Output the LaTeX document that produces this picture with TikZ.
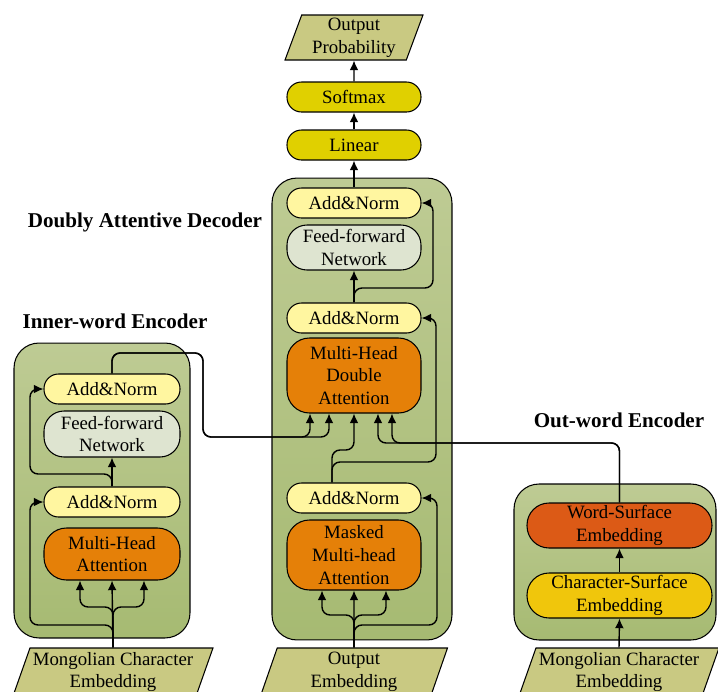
\documentclass[tikz,border=0pt]{standalone}
\usepackage{fontspec}
\setmainfont{Liberation Serif}
\usetikzlibrary{shapes.geometric,arrows.meta}
\definecolor{panelTop}{RGB}{190,203,148}
\definecolor{panelBot}{RGB}{166,186,114}
\definecolor{embFill}{RGB}{201,201,130}
\definecolor{normFill}{RGB}{255,246,160}
\definecolor{ffnFill}{RGB}{222,228,208}
\definecolor{attFill}{RGB}{229,128,8}
\definecolor{outFill}{RGB}{224,208,0}
\definecolor{wordFill}{RGB}{220,90,22}
\definecolor{charFill}{RGB}{240,198,12}

\begin{document}
\begin{tikzpicture}[x=0.02cm,y=-0.02cm,
    >={Latex[length=5.5pt,width=5pt]},
    txt/.style={font=\fontsize{10.7}{13}\selectfont},
    box/.style={draw,semithick,txt,align=center,inner sep=0pt,minimum width=2.68cm},
    norm/.style={box,fill=normFill,minimum height=0.6cm,rounded corners=0.29cm},
    ffn/.style={box,fill=ffnFill,minimum height=0.9cm,rounded corners=0.4cm},
    att/.style={box,fill=attFill,rounded corners=0.45cm},
    outbox/.style={box,fill=outFill,minimum height=0.6cm,rounded corners=0.29cm},
    para/.style={draw,semithick,txt,fill=embFill,align=center,inner sep=0pt,
      trapezium,trapezium left angle=67,trapezium right angle=113,
      trapezium stretches body,minimum height=0.96cm},
    panel/.style={draw,semithick,rounded corners=0.5cm,inner sep=0pt,
      top color=panelTop,bottom color=panelBot},
    title/.style={font=\fontsize{12}{14}\selectfont\bfseries},
    conn/.style={line width=0.8pt,rounded corners=0.16cm}]
  \useasboundingbox (0,0) rectangle (718,691);

  % containers
  \node (decpanel) at (362,409) [panel,minimum width=3.6cm,minimum height=9.24cm] {};
  \node (innpanel) at (102,490.5) [panel,minimum width=3.52cm,minimum height=5.9cm] {};
  \node (outpanel) at (615,562) [panel,minimum width=4.04cm,minimum height=3.12cm] {};

  \node (dectitle) at (145,222) [title] {Doubly Attentive Decoder};
  \node (inntitle) at (115,321) [title] {Inner-word Encoder};
  \node (outtitle) at (619,420) [title] {Out-word Encoder};

  % decoder
  \node (prob) at (354,37.5) [para,minimum height=0.9cm,minimum width=2.76cm] {Output\\Probability};
  \node (smax) at (354,97) [outbox] {Softmax};
  \node (lin) at (354,145) [outbox] {Linear};
  \node (an3) at (354,203) [norm] {Add\&Norm};
  \node (ffn2) at (354,247.5) [ffn] {Feed-forward\\Network};
  \node (an2) at (354,318) [norm] {Add\&Norm};
  \node (mhda) at (354,375.5) [att,minimum height=1.5cm] {Multi-Head\\Double\\Attention};
  \node (an1) at (354,498) [norm] {Add\&Norm};
  \node (mmha) at (354,555) [att,minimum height=1.4cm] {Masked\\Multi-head\\Attention};
  \node (oemb) at (354,672) [para,minimum width=3.74cm] {Output\\Embedding};

  % inner-word encoder
  \node (ean2) at (112,389) [norm,minimum width=2.72cm] {Add\&Norm};
  \node (effn) at (112,434) [ffn,minimum width=2.72cm,minimum height=0.92cm] {Feed-forward\\Network};
  \node (ean1) at (112,502) [norm,minimum width=2.72cm] {Add\&Norm};
  \node (emha) at (112,554) [att,minimum width=2.72cm,minimum height=1.04cm] {Multi-Head\\Attention};
  \node (cemb1) at (113,672) [para,minimum width=4cm] {Mongolian Character\\Embedding};

  % out-word encoder
  \node (wse) at (619.5,525.5) [box,fill=wordFill,minimum width=3.7cm,minimum height=0.9cm,rounded corners=0.44cm] {Word-Surface\\Embedding};
  \node (cse) at (619.5,595.5) [box,fill=charFill,minimum width=3.7cm,minimum height=0.9cm,rounded corners=0.44cm] {Character-Surface\\Embedding};
  \node (cemb2) at (619,672) [para,minimum width=4cm] {Mongolian Character\\Embedding};

  % decoder links
  \draw[conn,->] (smax) -- (prob);
  \draw[conn,->] (lin) -- (smax);
  \draw[conn,->] (an3) -- (lin);
  \draw[conn,->] (an2) -- (ffn2);
  \draw[conn,->] (an2.north) |- (433,288) -- (433,203) -- (an3.east);
  \draw[conn,->] (oemb.north) -- (mmha.south);
  \draw[conn,->] (oemb.north) |- (322,615) -- ([xshift=-0.64cm]mmha.south);
  \draw[conn,->] (oemb.north) |- (386,615) -- ([xshift=0.64cm]mmha.south);
  \draw[conn,->] (oemb.north) |- (437,625) -- (437,498) -- (an1.east);
  \draw[conn,->] ([xshift=-0.44cm]an1.north) |- (354,450) -- (mhda.south);
  \draw[conn,->] ([xshift=-0.44cm]an1.north) |- (436,462) -- (436,318) -- (an2.east);

  % inner-word encoder links
  \draw[conn,->] (cemb1.north) -- (emha.south);
  \draw[conn,->] (cemb1.north) |- (80,607) -- ([xshift=-0.64cm]emha.south);
  \draw[conn,->] (cemb1.north) |- (144,607) -- ([xshift=0.64cm]emha.south);
  \draw[conn,->] (cemb1.north) |- (30,625) -- (30,502) -- (ean1.west);
  \draw[conn,->] (ean1) -- (effn);
  \draw[conn,->] (ean1.north) |- (30,474) -- (30,389) -- (ean2.west);
  \draw[conn,->] (ean2.north) |- (203,353) -- (203,437) -- (310,437) -- ([xshift=-0.88cm]mhda.south);
  \draw[conn,->] (ean2.north) |- (203,353) -- (203,437) -- (329,437) -- ([xshift=-0.5cm]mhda.south);

  % out-word encoder links
  \draw[conn,->] (cemb2.north) -- (cse.south);
  \draw[conn,->] (cse) -- (wse);
  \draw[conn,->] (wse.north) |- (378,443) -- ([xshift=0.48cm]mhda.south);
  \draw[conn,->] (wse.north) |- (392,443) -- ([xshift=0.76cm]mhda.south);
\end{tikzpicture}
\end{document}
